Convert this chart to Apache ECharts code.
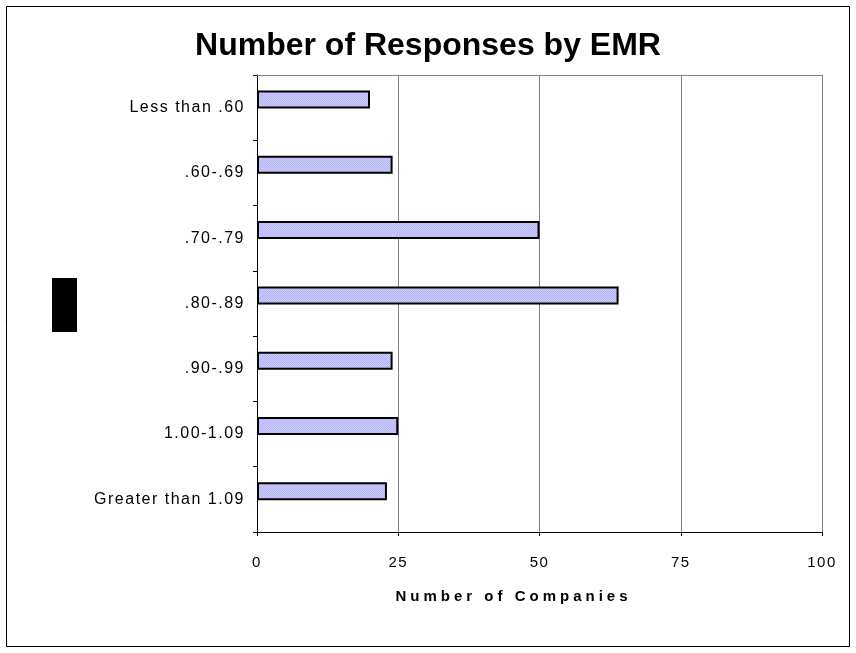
<!DOCTYPE html>
<html>
<head>
<meta charset="utf-8">
<script src="https://cdn.jsdelivr.net/npm/echarts@6/dist/echarts.min.js"></script>
<style>
  html, body { margin: 0; padding: 0; background: #fff; }
  #chart { width: 856px; height: 653px; }
</style>
</head>
<body>
<div id="chart"></div>
<script>
// EMR buckets, top to bottom
const categories = ['Less than .60', '.60-.69', '.70-.79', '.80-.89', '.90-.99', '1.00-1.09', 'Greater than 1.09'];
// Number of companies responding in each bucket
const responses = [20, 24, 50, 64, 24, 25, 23];
// Value-axis ticks
const xTicks = [0, 25, 50, 75, 100];

const axisTitle = 'Number of Companies';

// Wider letter tracking for the axis texts (canvas letterSpacing); everything else untracked
const tracking = new Map();
tracking.set(axisTitle, '4px');
categories.forEach(c => tracking.set(c, '1.5px'));
xTicks.forEach(t => tracking.set(String(t), '1.5px'));
(function () {
  const proto = CanvasRenderingContext2D.prototype;
  const origFill = proto.fillText;
  proto.fillText = function (text, x, y, maxW) {
    if ('letterSpacing' in this) {
      this.letterSpacing = tracking.get(String(text)) || '0px';
    }
    const r = maxW === undefined ? origFill.call(this, text, x, y) : origFill.call(this, text, x, y, maxW);
    if ('letterSpacing' in this) this.letterSpacing = '0px';
    return r;
  };
})();

const chart = echarts.init(document.getElementById('chart'), null, { renderer: 'canvas' });

// Fine dotted fill for the bars
function makePattern() {
  const c = document.createElement('canvas');
  c.width = 2; c.height = 2;
  const g = c.getContext('2d');
  g.fillStyle = '#cacaff';
  g.fillRect(0, 0, 2, 2);
  g.fillStyle = '#b6b6f2';
  g.fillRect(0, 0, 1, 1);
  g.fillRect(1, 1, 1, 1);
  return c;
}

const font = 'Liberation Sans, Arial, sans-serif';

chart.setOption({
  backgroundColor: '#fff',
  animation: false,
  title: {
    text: 'Number of Responses by EMR',
    left: 'center',
    top: 25,
    textStyle: { fontFamily: font, fontSize: 32, fontWeight: 'bold', color: '#000' }
  },
  grid: { left: 257, right: 34, top: 75, bottom: 121, containLabel: false },
  xAxis: [
    {
      type: 'value',
      min: xTicks[0],
      max: xTicks[xTicks.length - 1],
      interval: 25,
      name: axisTitle,
      nameLocation: 'middle',
      nameGap: 57,
      nameTextStyle: { fontFamily: font, fontSize: 15, fontWeight: 'bold', color: '#000', padding: [0, 52, 0, 0] },
      axisLine: { show: true, lineStyle: { color: '#000', width: 1 } },
      axisTick: { show: true, inside: false, length: 4, lineStyle: { color: '#000' } },
      axisLabel: { fontFamily: font, fontSize: 15, color: '#000', margin: 23 },
      splitLine: { show: true, lineStyle: { color: '#808080', width: 1 } }
    },
    {
      // plot-area top edge
      type: 'value',
      position: 'top',
      min: xTicks[0],
      max: xTicks[xTicks.length - 1],
      interval: 25,
      axisLine: { show: true, lineStyle: { color: '#808080', width: 1 } },
      axisTick: { show: false },
      axisLabel: { show: false },
      splitLine: { show: false }
    }
  ],
  yAxis: {
    type: 'category',
    data: categories,
    inverse: true,
    axisLine: { show: true, lineStyle: { color: '#000', width: 1 } },
    axisTick: { show: true, length: 4, lineStyle: { color: '#000' } },
    axisLabel: { fontFamily: font, fontSize: 16, color: '#000', margin: 12 },
    splitLine: { show: false }
  },
  series: [
    {
      type: 'bar',
      data: responses,
      barWidth: 18,
      barGap: '-10%',
      itemStyle: {
        color: { image: makePattern(), repeat: 'repeat' },
        borderColor: '#000',
        borderWidth: 2
      }
    },
    {
      type: 'bar',
      data: categories.map(() => '-'),
      barWidth: 18,
      silent: true
    }
  ],
  graphic: [
    {
      type: 'rect',
      shape: { x: 6.5, y: 6.5, width: 843, height: 640 },
      style: { fill: 'none', stroke: '#000', lineWidth: 1 },
      silent: true
    },
    {
      type: 'rect',
      shape: { x: 52, y: 278, width: 25, height: 54 },
      style: { fill: '#000' },
      silent: true
    }
  ]
});
</script>
</body>
</html>
